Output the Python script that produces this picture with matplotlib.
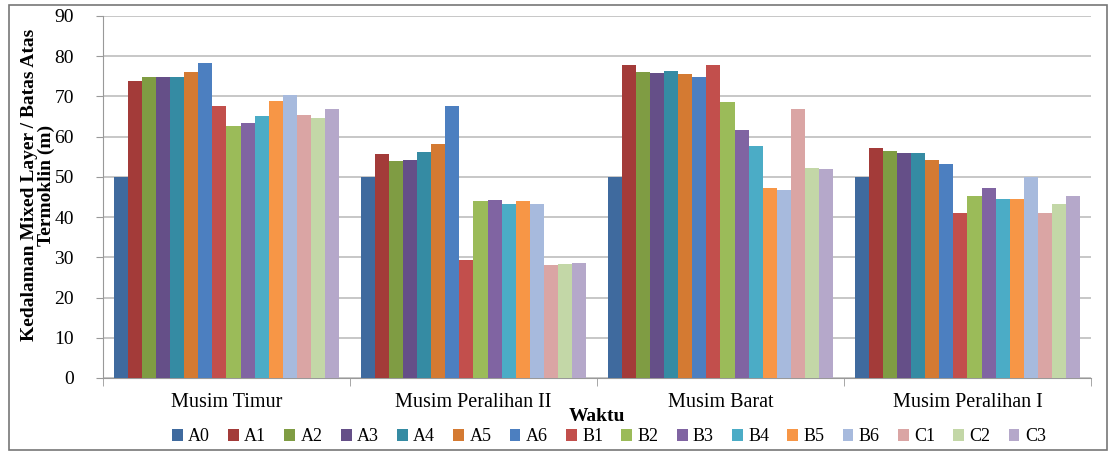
import numpy as np
import matplotlib
matplotlib.use('Agg')
from matplotlib import pyplot as plt
from matplotlib.patches import Rectangle

plt.rcParams['font.family'] = ['Liberation Serif', 'DejaVu Serif']

# Musim (seasons) on the x axis
seasons = ['Musim Timur', 'Musim Peralihan II', 'Musim Barat', 'Musim Peralihan I']
stations = ['A0', 'A1', 'A2', 'A3', 'A4', 'A5', 'A6', 'B1', 'B2', 'B3', 'B4', 'B5', 'B6', 'C1', 'C2', 'C3']

# depth values (m), one list per season, in station order
timur = [50.0, 73.9, 74.9, 74.9, 74.9, 76.1, 78.2, 67.5, 62.7, 63.5, 65.2, 68.9, 70.4, 65.5, 64.7, 66.9]
peralihan_2 = [50.0, 55.7, 53.9, 54.3, 56.1, 58.1, 67.7, 29.3, 43.9, 44.3, 43.3, 44.1, 43.3, 28.0, 28.4, 28.7]
barat = [50.0, 77.9, 76.1, 75.8, 76.2, 75.7, 74.9, 77.7, 68.6, 61.6, 57.8, 47.2, 46.8, 66.8, 52.1, 52.0]
peralihan_1 = [50.0, 57.3, 56.4, 56.0, 55.9, 54.1, 53.3, 40.9, 45.3, 47.2, 44.5, 44.5, 50.0, 40.9, 43.3, 45.3]

colors = ['#3F6A9E', '#A33B39', '#7F9C43', '#654F88', '#358BA3', '#D47A32', '#4C7FC0', '#C24F4C',
          '#9BBB59', '#8064A2', '#4BACC6', '#F79646', '#A7BADD', '#DAA5A4', '#C3D7A7', '#B5A8CA']

values = np.array([timur, peralihan_2, barat, peralihan_1])

fig = plt.figure(figsize=(11.12, 4.53), dpi=100)
ax = fig.add_axes([0.0926, 0.1656, 0.8885, 0.7991])

# excel style: gap width 150% of one bar
n = len(stations)
width = 1.0 / (n + 1.5)
x = np.arange(len(seasons))
for i, st in enumerate(stations):
    ax.bar(x - 0.5 + width * 0.75 + width * i + width / 2, values[:, i], width=width,
           color=colors[i], label=st, zorder=3, linewidth=0)

ax.set_xlim(-0.5, len(seasons) - 0.5)
ax.set_ylim(0, 90)
ax.set_yticks(range(0, 91, 10))
ax.yaxis.grid(True, color='#BDBDBD', linewidth=1.2, zorder=0)
ax.tick_params(axis='y', labelsize=14, length=5, color='#999999', pad=16)

ax.set_xticks(x)
ax.set_xticklabels(seasons, fontsize=14.5)
ax.tick_params(axis='x', length=0, pad=11)
# group separator ticks
ax.set_xticks(np.arange(-0.5, len(seasons)), minor=True)
ax.tick_params(axis='x', which='minor', length=6, color='#999999')

for side in ['top', 'right']:
    ax.spines[side].set_visible(False)
ax.spines['left'].set_color('#999999')
ax.spines['bottom'].set_color('#999999')

ax.set_ylabel('Kedalaman Mixed Layer / Batas Atas\nTermoklin (m)', fontsize=14,
              fontweight='bold', linespacing=0.95)
ax.yaxis.set_label_coords(-0.049, 0.533)
ax.set_xlabel('Waktu', fontsize=14, fontweight='bold', labelpad=-3)

leg = ax.legend(loc='center', bbox_to_anchor=(0.512, -0.163), ncol=16, frameon=False,
                fontsize=13, handlelength=0.6, handleheight=0.6, handletextpad=0.3,
                columnspacing=1.0, borderaxespad=0)

# chart border
fig.patches.append(Rectangle((9 / 1112, 3 / 453), 1098 / 1112, 445 / 453, transform=fig.transFigure,
                             fill=False, edgecolor='#777777', linewidth=1.2))

fig.savefig('out.png', dpi=100)
